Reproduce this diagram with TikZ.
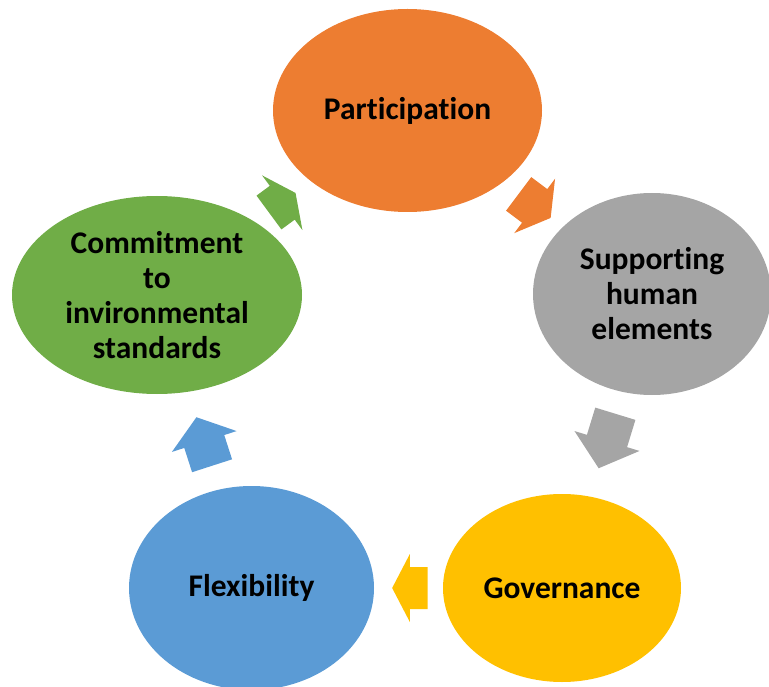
\documentclass[tikz,border=0pt]{standalone}
\usepackage{fontspec}
\setmainfont{Carlito}[Ligatures=NoCommon]
\usetikzlibrary{shapes.geometric}
\definecolor{cycorange}{HTML}{ED7D31}
\definecolor{cycgray}{HTML}{A5A5A5}
\definecolor{cycgold}{HTML}{FFC000}
\definecolor{cycblue}{HTML}{5B9BD5}
\definecolor{cycgreen}{HTML}{70AD47}
\tikzstyle{cyclenode} = [ellipse, inner sep=0pt, align=center,
    font=\fontsize{31.5}{35}\selectfont\bfseries, text=black]
\def\shafthalf{21}
\def\headhalf{34}
\tikzset{pics/cyclearrow/.style={code={
    \fill (-#1,-\shafthalf) -- (0,-\shafthalf) -- (0,-\headhalf) -- (#1,0)
      -- (0,\headhalf) -- (0,\shafthalf) -- (-#1,\shafthalf) -- cycle;}}}

\begin{document}
\begin{tikzpicture}[x=1pt,y=-1pt]
\useasboundingbox (0,0) rectangle (769,687);

\node[cyclenode, fill=cycorange, minimum width=269, minimum height=203] (part) at (407.5,110.5) {Participation};
\node[cyclenode, fill=cycgray, minimum width=238, minimum height=202] (supp) at (652,294) {Supporting\\human\\elements};
\node[cyclenode, fill=cycgold, minimum width=238, minimum height=188] (gov) at (562,588) {Governance};
\node[cyclenode, fill=cycblue, minimum width=245, minimum height=204] (flex) at (251.5,588) {Flexibility};
\node[cyclenode, fill=cycgreen, minimum width=290, minimum height=198] (commit) at (157,295) {Commitment\\to\\invironmental\\standards};

%\draw[red] (part.center) -- (supp.center) -- (gov.center) -- (flex.center) -- (commit.center) -- cycle;

\path (part.center) -- pic[sloped, allow upside down, pos=0.52, fill=cycorange]{cyclearrow=20} (supp.center);
\path (supp.center) -- pic[sloped, allow upside down, pos=0.5, fill=cycgray]{cyclearrow=28.5} (gov.center);
\path (gov.center) -- pic[sloped, allow upside down, pos=0.49, fill=cycgold]{cyclearrow=17.7} (flex.center);
\path (flex.center) -- pic[sloped, allow upside down, pos=0.5, fill=cycblue]{cyclearrow=25.5} (commit.center);
\path (commit.center) -- pic[sloped, allow upside down, pos=0.5, fill=cycgreen]{cyclearrow=16.5} (part.center);

\end{tikzpicture}
\end{document}
